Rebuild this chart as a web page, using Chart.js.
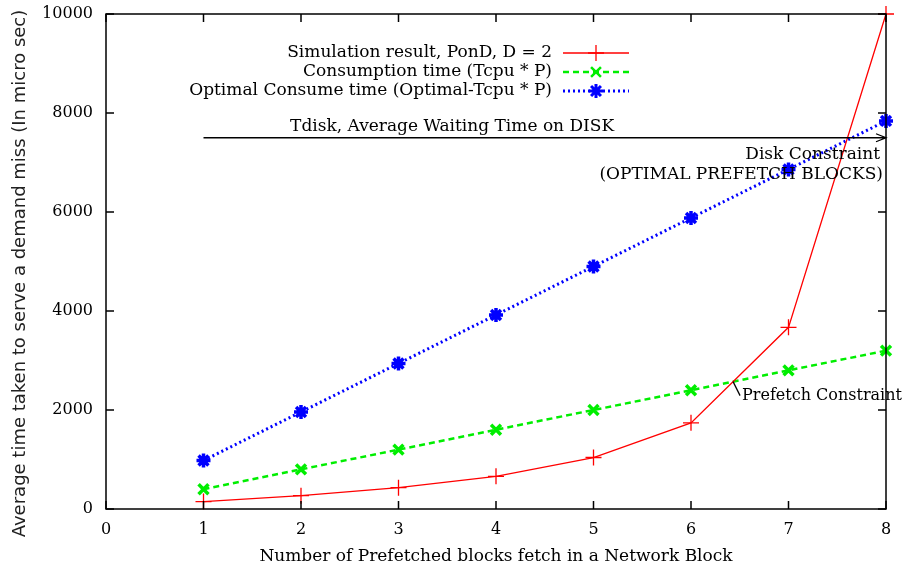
<!DOCTYPE html>
<html>
<head>
<meta charset="utf-8">
<script src="https://cdn.jsdelivr.net/npm/chart.js@4.4.0/dist/chart.umd.min.js"></script>
<style>
  html, body { margin: 0; padding: 0; background: #fff; }
</style>
</head>
<body>
<canvas id="chart" width="905" height="572"></canvas>
<script>
// prefetch blocks per network block (x) and the three measured/derived curves
const prefetchBlocks = [1, 2, 3, 4, 5, 6, 7, 8];
const simulationPonD = [150, 270, 430, 660, 1040, 1740, 3670, 10000];
const consumptionTime = [400, 800, 1200, 1600, 2000, 2400, 2800, 3200];
const optimalConsumeTime = [980, 1960, 2940, 3920, 4900, 5880, 6860, 7840];

const seriesLabels = [
  'Simulation result, PonD, D = 2',
  'Consumption time (Tcpu * P)',
  'Optimal Consume time (Optimal-Tcpu * P)'
];

// average disk waiting time, drawn as a horizontal arrow from x = 1 to x = 8
const tdiskValue = 7500;
const tdiskRange = [1, 8];

const yAxisTitle = 'Average time taken to serve a demand miss (In micro sec)';

const SERIF = '"DejaVu Serif", serif';

// point where two series cross, searched segment by segment
function crossing(a, b) {
  for (let i = 0; i < prefetchBlocks.length - 1; i++) {
    const d0 = a[i] - b[i], d1 = a[i + 1] - b[i + 1];
    if (d0 === 0) return { x: prefetchBlocks[i], y: a[i] };
    if (d0 * d1 < 0) {
      const t = d0 / (d0 - d1);
      return {
        x: prefetchBlocks[i] + t * (prefetchBlocks[i + 1] - prefetchBlocks[i]),
        y: a[i] + t * (a[i + 1] - a[i])
      };
    }
  }
  return null;
}

// gnuplot style frame: full box with inward ticks on all four sides,
// plus the y axis title (sits a bit lower than the plot centre)
const framePlugin = {
  id: 'frame',
  afterDraw(chart) {
    const { ctx, chartArea: a, scales: { x, y } } = chart;
    ctx.save();
    ctx.strokeStyle = '#000';
    ctx.lineWidth = 1.5;
    ctx.strokeRect(a.left, a.top, a.right - a.left, a.bottom - a.top);
    ctx.beginPath();
    x.ticks.forEach(t => {
      const px = x.getPixelForValue(t.value);
      ctx.moveTo(px, a.bottom); ctx.lineTo(px, a.bottom - 8);
      ctx.moveTo(px, a.top); ctx.lineTo(px, a.top + 8);
    });
    y.ticks.forEach(t => {
      const py = y.getPixelForValue(t.value);
      ctx.moveTo(a.left, py); ctx.lineTo(a.left + 8, py);
      ctx.moveTo(a.right, py); ctx.lineTo(a.right - 8, py);
    });
    ctx.stroke();

    ctx.translate(20, (a.top + a.bottom) / 2 + 12);
    ctx.rotate(-Math.PI / 2);
    ctx.fillStyle = '#222';
    ctx.font = '18px "DejaVu Sans", sans-serif';
    ctx.textAlign = 'center';
    ctx.textBaseline = 'middle';
    ctx.fillText(yAxisTitle, 0, 0);
    ctx.restore();
  }
};

// the key, text right aligned with a short sample of each line
const keyPlugin = {
  id: 'key',
  afterDraw(chart) {
    const { ctx, chartArea: a } = chart;
    const textRight = a.left + 446;
    const x0 = textRight + 11, x1 = textRight + 77;
    ctx.save();
    ctx.font = '17px ' + SERIF;
    ctx.textAlign = 'right';
    ctx.textBaseline = 'middle';
    chart.data.datasets.forEach((ds, i) => {
      const rowY = a.top + 39 + i * 19;
      ctx.fillStyle = '#000';
      ctx.fillText(ds.label, textRight, rowY);
      ctx.strokeStyle = ds.borderColor;
      ctx.lineWidth = ds.borderWidth;
      ctx.setLineDash(ds.borderDash || []);
      ctx.beginPath();
      ctx.moveTo(x0, rowY); ctx.lineTo(x1, rowY);
      ctx.stroke();
      ctx.setLineDash([]);
      Chart.helpers.drawPoint(ctx, {
        pointStyle: ds.pointStyle,
        radius: ds.pointRadius,
        rotation: 0,
        borderWidth: ds.pointBorderWidth
      }, (x0 + x1) / 2, rowY);
    });
    ctx.restore();
  }
};

// Tdisk arrow and the two constraint notes
const notesPlugin = {
  id: 'notes',
  afterDatasetsDraw(chart) {
    const { ctx, scales: { x, y } } = chart;
    ctx.save();
    ctx.fillStyle = '#000';
    ctx.strokeStyle = '#000';
    ctx.lineWidth = 1.3;

    const ty = y.getPixelForValue(tdiskValue);
    const tx0 = x.getPixelForValue(tdiskRange[0]);
    const tx1 = x.getPixelForValue(tdiskRange[1]);
    ctx.beginPath();
    ctx.moveTo(tx0, ty); ctx.lineTo(tx1, ty);
    ctx.moveTo(tx1 - 10, ty - 4); ctx.lineTo(tx1, ty); ctx.lineTo(tx1 - 10, ty + 4);
    ctx.stroke();

    ctx.font = '17px ' + SERIF;
    ctx.textBaseline = 'alphabetic';
    ctx.textAlign = 'center';
    ctx.fillText('Tdisk, Average Waiting Time on DISK', x.getPixelForValue(3.55), ty - 7);

    ctx.textAlign = 'right';
    ctx.fillText('Disk Constraint', tx1 - 6, ty + 21);
    ctx.fillText('(OPTIMAL PREFETCH BLOCKS)', tx1 - 3, ty + 41);

    const pc = crossing(simulationPonD, consumptionTime);
    if (pc) {
      const px = x.getPixelForValue(pc.x), py = y.getPixelForValue(pc.y);
      ctx.beginPath();
      ctx.moveTo(px, py); ctx.lineTo(px + 7, py + 14);
      ctx.stroke();
      ctx.font = '16px ' + SERIF;
      ctx.textAlign = 'left';
      ctx.fillText('Prefetch Constraint', px + 9, py + 18);
    }
    ctx.restore();
  }
};

new Chart(document.getElementById('chart'), {
  type: 'line',
  data: {
    labels: prefetchBlocks,
    datasets: [
      {
        label: seriesLabels[0],
        data: prefetchBlocks.map((p, i) => ({ x: p, y: simulationPonD[i] })),
        borderColor: '#ff0000',
        backgroundColor: '#ff0000',
        borderWidth: 1.3,
        pointStyle: 'cross',
        pointRadius: 8,
        pointBorderWidth: 1.3,
        clip: false
      },
      {
        label: seriesLabels[1],
        data: prefetchBlocks.map((p, i) => ({ x: p, y: consumptionTime[i] })),
        borderColor: '#00ee00',
        backgroundColor: '#00ee00',
        borderWidth: 2.5,
        borderDash: [6, 4],
        pointStyle: 'crossRot',
        pointRadius: 7,
        pointBorderWidth: 3.5,
        clip: false
      },
      {
        label: seriesLabels[2],
        data: prefetchBlocks.map((p, i) => ({ x: p, y: optimalConsumeTime[i] })),
        borderColor: '#0000ff',
        backgroundColor: '#0000ff',
        borderWidth: 3,
        borderDash: [2, 3],
        pointStyle: 'star',
        pointRadius: 7,
        pointBorderWidth: 3.5,
        clip: false
      }
    ]
  },
  options: {
    responsive: false,
    animation: false,
    devicePixelRatio: 1,
    layout: { padding: { top: 14, right: 19, left: 0, bottom: 0 } },
    plugins: {
      legend: { display: false },
      tooltip: { enabled: false }
    },
    elements: { line: { tension: 0 } },
    scales: {
      x: {
        type: 'linear',
        min: 0,
        max: 8,
        afterFit: s => { s.height = 63; s.paddingLeft = 0; s.paddingRight = 0; },
        grid: { display: false, drawTicks: false },
        border: { display: false },
        ticks: { stepSize: 1, padding: 11, color: '#000', font: { family: SERIF, size: 16 } },
        title: {
          display: true,
          text: 'Number of Prefetched blocks fetch in a Network Block',
          color: '#000',
          font: { family: SERIF, size: 17 },
          padding: { top: 0, bottom: 5 }
        }
      },
      y: {
        min: 0,
        max: 10000,
        afterFit: s => { s.width = 106; s.paddingTop = 0; s.paddingBottom = 0; },
        grid: { display: false, drawTicks: false },
        border: { display: false },
        ticks: {
          stepSize: 2000,
          padding: 13,
          color: '#000',
          font: { family: SERIF, size: 16 },
          callback: v => String(v)
        }
      }
    }
  },
  plugins: [framePlugin, keyPlugin, notesPlugin]
});
</script>
</body>
</html>
